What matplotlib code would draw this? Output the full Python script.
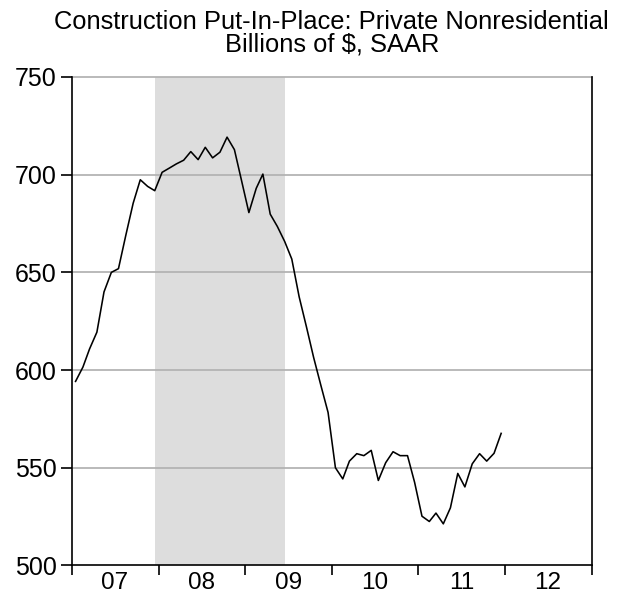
import matplotlib

matplotlib.use("Agg")
import matplotlib.pyplot as plt
import numpy as np
import pandas as pd

plt.rcParams["font.family"] = ["Liberation Sans", "DejaVu Sans"]

# monthly values, Jan 2007 - Dec 2011 (billions of $, SAAR)
values_2007 = [594.2, 601.5, 610.8, 619.4, 640.0, 650.0, 651.9, 669.0, 685.4, 697.4, 694.0, 691.8]
values_2008 = [701.2, 703.4, 705.5, 707.4, 711.8, 707.7, 714.0, 708.6, 711.5, 719.2, 712.8, 697.0]
values_2009 = [680.6, 693.0, 700.3, 679.8, 673.5, 665.8, 656.8, 637.5, 622.0, 606.5, 592.0, 578.3]
values_2010 = [550.0, 544.3, 553.4, 557.2, 556.2, 558.9, 543.5, 552.6, 558.2, 556.2, 556.2, 542.5]
values_2011 = [525.2, 522.5, 526.8, 521.3, 529.5, 547.1, 540.2, 552.0, 557.2, 553.4, 557.4, 567.6]
start_month = "2007-01"
recession = ("2007-12", "2009-06")
year_labels = ["07", "08", "09", "10", "11", "12"]
y_ticks = [500, 550, 600, 650, 700, 750]

values = np.array(values_2007 + values_2008 + values_2009 + values_2010 + values_2011)
# plot each month at its middle
dates = pd.date_range(start_month, periods=values.size, freq="MS") + pd.Timedelta(days=15)

fig = plt.figure(figsize=(6.18, 5.99), dpi=100)
ax = fig.add_axes([0.1165, 0.056, 0.841, 0.8155])

rec_start = pd.Timestamp(recession[0]) + pd.Timedelta(days=15)
rec_end = pd.Timestamp(recession[1]) + pd.Timedelta(days=15)
ax.axvspan(rec_start, rec_end, color="#dddddd", lw=0, zorder=0)

for y in y_ticks[1:]:
    ax.axhline(y, color="#b4b4b4", lw=1.3, zorder=1, clip_on=False)

ax.plot(dates, values, color="black", lw=1.15, zorder=3)

ax.set_xlim(pd.Timestamp("2007-01-01"), pd.Timestamp("2013-01-01"))
ax.set_ylim(500, 750)
ax.set_yticks(y_ticks)

year_starts = pd.date_range("2007-01-01", "2013-01-01", freq="YS")
mid_years = pd.date_range("2007-07-01", periods=len(year_labels), freq="12MS")
ax.set_xticks(year_starts)
ax.set_xticklabels([])
ax.set_xticks(mid_years, minor=True)
ax.set_xticklabels(year_labels, minor=True)

ax.tick_params(axis="x", which="major", direction="out", length=7, width=1.2)
ax.tick_params(axis="x", which="minor", length=0, pad=5, labelsize=17.5)
ax.tick_params(axis="y", direction="out", length=8, width=1.2, labelsize=18, pad=3)

ax.spines["top"].set_visible(False)
for side in ["left", "right", "bottom"]:
    ax.spines[side].set_linewidth(1.2)

ax.set_title("Construction Put-In-Place: Private Nonresidential\nBillions of $, SAAR",
             fontsize=18.4, linespacing=0.92, pad=18)

fig.savefig("out.png", dpi=100)
